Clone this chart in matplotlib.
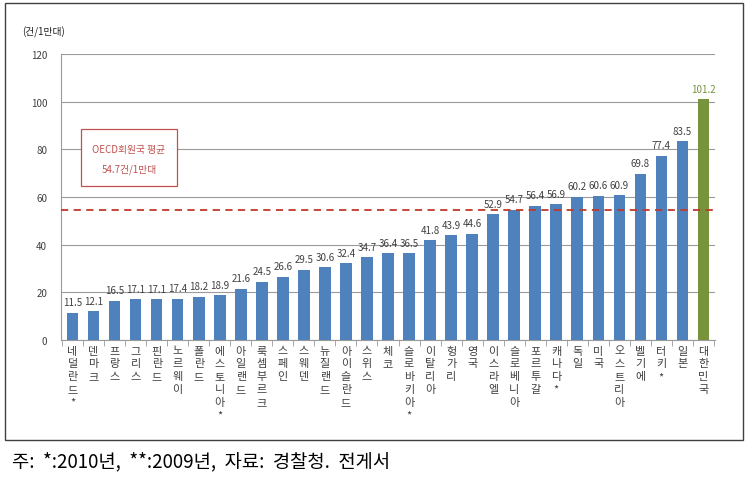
import matplotlib
matplotlib.use("Agg")
import matplotlib.pyplot as plt
from matplotlib.patches import Rectangle
import numpy as np

plt.rcParams['font.family'] = ['Noto Sans CJK KR', 'DejaVu Sans']

countries = ["네덜란드*", "덴마크", "프랑스", "그리스", "핀란드", "노르웨이", "폴란드",
             "에스토니아*", "아일랜드", "룩셈부르크", "스페인", "스웨덴", "뉴질랜드",
             "아이슬란드", "스위스", "체코", "슬로바키아*", "이탈리아", "헝가리", "영국",
             "이스라엘", "슬로베니아", "포르투갈", "캐나다*", "독일", "미국", "오스트리아",
             "벨기에", "터키*", "일본", "대한민국"]
values = [11.5, 12.1, 16.5, 17.1, 17.1, 17.4, 18.2, 18.9, 21.6, 24.5, 26.6, 29.5, 30.6,
          32.4, 34.7, 36.4, 36.5, 41.8, 43.9, 44.6, 52.9, 54.7, 56.4, 56.9, 60.2, 60.6,
          60.9, 69.8, 77.4, 83.5, 101.2]
oecd_avg = 54.7
yticks = [0, 20, 40, 60, 80, 100, 120]

blue = "#4F81BD"
green = "#77933C"

fig = plt.figure(figsize=(7.48, 4.85), dpi=100)
ax = fig.add_axes([61/748, 1-341/485, (715-61)/748, (341-55)/485])

x = np.arange(len(countries))
colors = [blue] * (len(countries) - 1) + [green]
ax.bar(x, values, width=0.55, color=colors, zorder=3)

for xi, v, c in zip(x, values, colors):
    ax.text(xi, v + 2.2, f"{v:.1f}", ha="center", va="bottom", fontsize=7,
            color=(green if c == green else "#404040"), zorder=4)

ax.axhline(oecd_avg, color="#C0392B", linestyle=(0, (4, 3)), linewidth=1.3, zorder=4)

ax.set_xlim(-0.55, len(countries) - 0.45)
ax.set_ylim(0, 120)
ax.set_yticks(yticks)
ax.set_yticklabels([str(t) for t in yticks], fontsize=7, color="#404040")
ax.yaxis.grid(True, color="#9A9A9A", linewidth=0.8, zorder=0)
ax.tick_params(axis="y", length=0, pad=10)
for s in ["top", "right"]:
    ax.spines[s].set_visible(False)
ax.spines["left"].set_color("#9A9A9A")
ax.spines["bottom"].set_color("#9A9A9A")

ax.set_xticks(x)
ax.set_xticklabels(["\n".join(list(c)) for c in countries], fontsize=8,
                   color="#404040", va="top", linespacing=1.35)
ax.tick_params(axis="x", which="major", length=0, pad=4)
ax.set_xticks(np.arange(-0.5, len(countries), 1.0), minor=True)
ax.tick_params(axis="x", which="minor", length=4, color="#9A9A9A")

# annotation box
fig.patches.append(Rectangle((81/748, 1-187/485), 96/748, 57/485, transform=fig.transFigure,
                             facecolor="white", edgecolor="#C0504D", linewidth=0.9, zorder=5))
fig.text(129/748, 1-150/485, "OECD회원국 평균", ha="center", va="center", fontsize=7,
         color="#C0504D", zorder=6)
fig.text(129/748, 1-170/485, "54.7건/1만대", ha="center", va="center", fontsize=7,
         color="#C0504D", zorder=6)

fig.text(22/748, 1-32/485, "(건/1만대)", ha="left", va="center", fontsize=7, color="#202020")

# outer frame
fig.patches.append(Rectangle((5/748, 1-441/485), 738/748, 437/485, transform=fig.transFigure,
                             facecolor="none", edgecolor="#404040", linewidth=1.0))

fig.text(12/748, 1-462/485, "주:  *:2010년,  **:2009년,  자료:  경찰청.  전게서", ha="left",
         va="center", fontsize=13.5, color="black")

fig.savefig("out.png", dpi=100)
